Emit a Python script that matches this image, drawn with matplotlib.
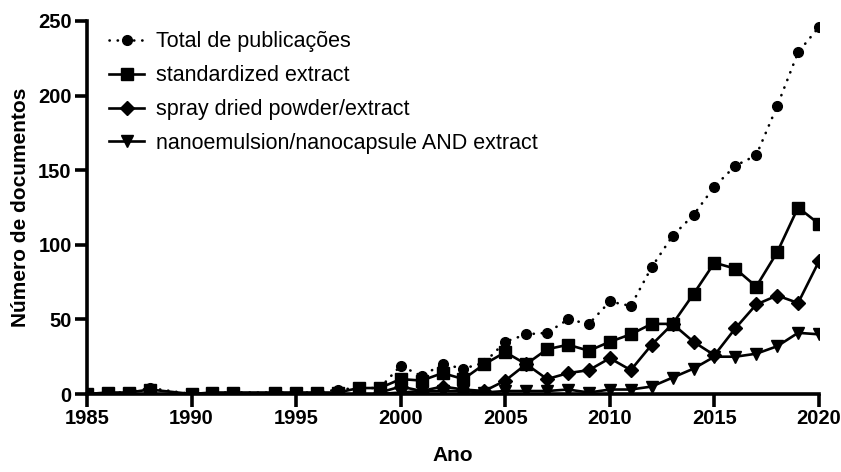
import numpy as np
import matplotlib.pyplot as plt

plt.rcParams['font.family'] = ['Liberation Sans', 'DejaVu Sans']

# -----------------------
# Data (documents per year, nan = no point)
# -----------------------
anos = np.arange(1985, 2021)
nan = np.nan

total = [0, 1, 1, 4, nan, 0, 1, 1, nan, 1, 1, 1, 3, 4, 4,
         19, 12, 20, 17, 21, 35, 40, 41, 50, 47, 62, 59, 85, 106, 120,
         139, 153, 160, 193, 229, 246]
standardized = [0, 1, 1, 3, nan, 0, 1, 1, nan, 1, 1, 1, 1, 4, 4,
                10, 9, 14, 10, 20, 28, 20, 30, 33, 29, 35, 40, 47, 47, 67,
                88, 84, 72, 95, 125, 114]
spray_dried = [nan, nan, nan, nan, nan, nan, nan, nan, nan, nan, nan, nan, nan, nan, 1,
               5, 2, 5, 3, 2, 9, 20, 10, 14, 16, 24, 16, 33, 47, 35,
               26, 44, 60, 66, 61, 89]
nano = [nan, nan, nan, nan, nan, nan, nan, nan, nan, nan, nan, nan, nan, nan, 0,
        1, 2, 2, 2, 1, 2, 2, 2, 3, 1, 3, 3, 5, 11, 17,
        25, 25, 27, 32, 41, 40]

labels = ['Total de publicações', 'standardized extract',
          'spray dried powder/extract', 'nanoemulsion/nanocapsule AND extract']


def valid(y):
    y = np.asarray(y, dtype=float)
    m = ~np.isnan(y)
    return anos[m], y[m]


# -----------------------
# Figure
# -----------------------
fig = plt.figure(figsize=(8.41, 4.72), dpi=100)
ax = fig.add_axes([87 / 841, 78 / 472, 732 / 841, 373 / 472])

lw = 1.9
x, y = valid(total)
ax.plot(x, y, color='black', lw=lw, linestyle=(0, (0.1, 3.0)),
        dash_capstyle='round', marker='o', markersize=7, label=labels[0], zorder=2)
x, y = valid(standardized)
ax.plot(x, y, color='black', lw=lw, marker='s', markersize=8.5,
        label=labels[1], zorder=5)
x, y = valid(spray_dried)
ax.plot(x, y, color='black', lw=lw, marker='D', markersize=7,
        label=labels[2], zorder=4)
x, y = valid(nano)
ax.plot(x, y, color='black', lw=lw, marker='v', markersize=8,
        label=labels[3], zorder=3)

ax.set_xlim(1985, 2020)
ax.set_ylim(0, 250)
ax.set_xticks(np.arange(1985, 2021, 5))
ax.set_yticks(np.arange(0, 251, 50))

for s in ['top', 'right']:
    ax.spines[s].set_visible(False)
for s in ['left', 'bottom']:
    ax.spines[s].set_linewidth(2.6)
    ax.spines[s].set_zorder(6)
ax.tick_params(width=2.6, length=9, labelsize=14.5, pad=2)
for t in ax.get_xticklabels() + ax.get_yticklabels():
    t.set_fontweight('bold')

ax.set_xlabel('Ano', fontsize=15, fontweight='bold', labelpad=13)
ax.set_ylabel('Número de documentos', fontsize=15, fontweight='bold', labelpad=6)

ax.legend(loc='upper left', bbox_to_anchor=(0.01, 1.013), frameon=False,
          fontsize=15.5, handlelength=1.6, handletextpad=0.55,
          labelspacing=0.6, numpoints=1, borderaxespad=0.3)

fig.savefig('out.png', dpi=100)
